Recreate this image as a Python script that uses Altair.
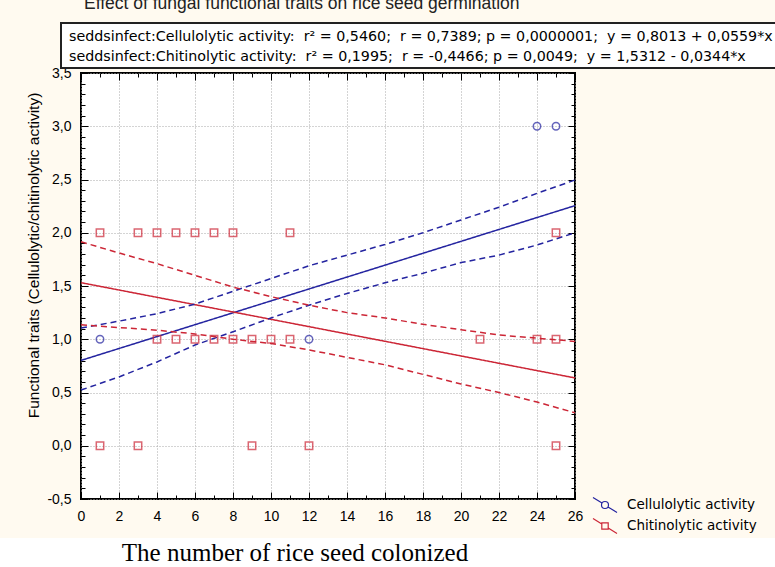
import altair as alt
import pandas as pd

# ---------------- data ----------------
series_names = ["Cellulolytic activity", "Chitinolytic activity"]

# regression lines (end points of the fitted straight lines)
fit_x = [0, 26]
cell_fit = [0.8013, 2.2547]
chit_fit = [1.5312, 0.6368]

# 95% confidence bands
band_x = [0, 2, 4, 6, 8, 10, 12, 14, 16, 18, 20, 22, 24, 26]
cell_upper = [1.106, 1.17, 1.24, 1.33, 1.45, 1.57, 1.69, 1.79, 1.89, 2.00, 2.12, 2.24, 2.37, 2.495]
cell_lower = [0.523, 0.646, 0.787, 0.946, 1.07, 1.20, 1.32, 1.43, 1.53, 1.62, 1.72, 1.79, 1.885, 2.00]
chit_upper = [1.915, 1.81, 1.71, 1.60, 1.49, 1.40, 1.32, 1.25, 1.20, 1.14, 1.09, 1.04, 1.01, 0.98]
chit_lower = [1.135, 1.11, 1.085, 1.05, 1.00, 0.96, 0.90, 0.83, 0.76, 0.67, 0.58, 0.50, 0.41, 0.31]

# observed points
cell_x = [1, 12, 24, 25]
cell_y = [1, 1, 3, 3]
chit_x = [1, 3, 4, 5, 6, 7, 8, 11, 25,
          4, 5, 6, 7, 8, 9, 10, 11, 21, 24, 25,
          1, 3, 9, 12, 25]
chit_y = [2, 2, 2, 2, 2, 2, 2, 2, 2,
          1, 1, 1, 1, 1, 1, 1, 1, 1, 1, 1,
          0, 0, 0, 0, 0]

x_ticks = [0, 2, 4, 6, 8, 10, 12, 14, 16, 18, 20, 22, 24, 26]
y_ticks = [-0.5, 0.0, 0.5, 1.0, 1.5, 2.0, 2.5, 3.0, 3.5]
x_minor = list(range(0, 27))
y_minor = [round(-0.5 + 0.1 * i, 1) for i in range(41)]

NB = "\u00a0"
title_text = "Effect of fungal functional traits on rice seed germination"
stat_line1 = ("seddsinfect:Cellulolytic activity:" + NB * 2 + "r\u00b2 = 0,5460;" + NB * 2 + "r = 0,7389;" + NB
              + "p = 0,0000001;" + NB * 2 + "y = 0,8013 + 0,0559*x")
stat_line2 = ("seddsinfect:Chitinolytic activity:" + NB * 2 + "r\u00b2 = 0,1995;" + NB * 2 + "r = -0,4466;" + NB
              + "p = 0,0049;" + NB * 2 + "y = 1,5312 - 0,0344*x")
y_title = "Functional traits (Cellulolytic/chitinolytic activity)"
caption = "The number of rice seed colonized"

# ---------------- tables ----------------
rows = []
for name, fx, fy in [(series_names[0], fit_x, cell_fit), (series_names[1], fit_x, chit_fit)]:
    for a, b in zip(fx, fy):
        rows.append(dict(series=name, kind="fit", line=name + " fit", x=a, y=b))
for name, up, lo in [(series_names[0], cell_upper, cell_lower), (series_names[1], chit_upper, chit_lower)]:
    for a, b in zip(band_x, up):
        rows.append(dict(series=name, kind="band", line=name + " up", x=a, y=b))
    for a, b in zip(band_x, lo):
        rows.append(dict(series=name, kind="band", line=name + " lo", x=a, y=b))
lines_df = pd.DataFrame(rows)

pts = [dict(series=series_names[0], x=a, y=b) for a, b in zip(cell_x, cell_y)]
pts += [dict(series=series_names[1], x=a, y=b) for a, b in zip(chit_x, chit_y)]
pts_df = pd.DataFrame(pts)

BLUE = "#2424A0"
RED = "#CC2636"
FONT = "Liberation Sans"
WIDE = "DejaVu Sans"
W, H = 494, 426

xs = alt.Scale(domain=[0, 26], nice=False, zero=False)
ys = alt.Scale(domain=[-0.5, 3.5], nice=False, zero=False)


def cscale():
    return alt.Scale(domain=series_names, range=[BLUE, RED])


grid_kw = dict(grid=True, gridColor="#A8A8A8", gridDash=[1, 2], gridWidth=1,
               ticks=False, tickSize=0, domain=False, labelFont=FONT, labelColor="black",
               labelOverlap=False, labelFlush=False)

x_main = alt.Axis(values=x_ticks, labelFontSize=14, labelPadding=10, title=None, **grid_kw)
y_main = alt.Axis(values=y_ticks, labelFontSize=14, labelPadding=10,
                  labelExpr="(datum.value < 0 ? '-' : '') + replace(format(abs(datum.value), '.1f'), '.', ',')",
                  title=y_title, titleFont=FONT, titleFontSize=15.5, titleFontWeight="normal",
                  titleColor="black", titleX=-48, titleY=182, titleAngle=270,
                  titleBaseline="middle", titleAlign="center", **grid_kw)

lines = alt.Chart(lines_df).mark_line(strokeWidth=1.5).encode(
    x=alt.X("x:Q", scale=xs, axis=x_main),
    y=alt.Y("y:Q", scale=ys, axis=y_main),
    color=alt.Color("series:N", scale=cscale(), legend=None),
    strokeDash=alt.StrokeDash("kind:N", scale=alt.Scale(domain=["fit", "band"], range=[[1, 0], [6, 4]]), legend=None),
    detail="line:N",
)

points = alt.Chart(pts_df).mark_point(filled=False, strokeWidth=1.5, size=55).encode(
    x=alt.X("x:Q", scale=xs, axis=None),
    y=alt.Y("y:Q", scale=ys, axis=None),
    color=alt.Color("series:N", scale=cscale(), legend=None),
    shape=alt.Shape("series:N", scale=alt.Scale(domain=series_names, range=["circle", "square"]), legend=None),
)

# legend: symbols are a diagonal line with the marker in the middle
circle_path = "M-1.2,-0.75L-0.3,-0.19M0.3,0.19L1.2,0.75M0.35,0A0.35,0.35 0 1,1 -0.35,0A0.35,0.35 0 1,1 0.35,0Z"
square_path = "M-1.2,-0.75L-0.32,-0.2M0.32,0.2L1.2,0.75M-0.32,-0.32L0.32,-0.32L0.32,0.32L-0.32,0.32Z"
leg_kw = dict(orient="none", legendX=513, legendY=421, title=None,
              labelFont=WIDE, labelFontSize=13.5, labelColor="black",
              symbolSize=400, symbolStrokeWidth=1.2, rowPadding=0, labelOffset=11)
legend_layer = alt.Chart(pts_df).transform_filter("false").mark_point(filled=False, opacity=1).encode(
    x=alt.X("x:Q", scale=xs, axis=None),
    y=alt.Y("y:Q", scale=ys, axis=None),
    color=alt.Color("series:N", scale=cscale(), legend=alt.Legend(**leg_kw)),
    shape=alt.Shape("series:N", scale=alt.Scale(domain=series_names, range=[circle_path, square_path]),
                    legend=alt.Legend(**leg_kw)),
)


def tick_axis(orient, values, size):
    return alt.Axis(orient=orient, values=values, ticks=True, tickSize=size, tickColor="black",
                    tickWidth=1, offset=-size, labels=False, domain=False, grid=False, title=None)


def tick_layer(xo, xv, xsz, yo, yv, ysz):
    return alt.Chart(pts_df).mark_point(opacity=0).encode(
        x=alt.X("x:Q", scale=xs, axis=tick_axis(xo, xv, xsz)),
        y=alt.Y("y:Q", scale=ys, axis=tick_axis(yo, yv, ysz)),
    )


t1 = tick_layer("bottom", x_minor, 4, "left", y_minor, 4)
t2 = tick_layer("top", x_minor, 4, "right", y_minor, 4)
t3 = tick_layer("bottom", x_ticks, 7, "left", y_ticks, 7)
t4 = tick_layer("top", x_ticks, 7, "right", y_ticks, 7)

one = pd.DataFrame({"t": [title_text]})
white_strip = alt.Chart(one).mark_rect(color="white").encode(
    x=alt.value(-81), x2=alt.value(W + 200), y=alt.value(465), y2=alt.value(H + 80))
box = alt.Chart(one).mark_rect(fill="white", stroke="#222222", strokeWidth=2).encode(
    x=alt.value(-20), x2=alt.value(W + 240), y=alt.value(-50), y2=alt.value(-5))
title = alt.Chart(one).mark_text(align="left", baseline="alphabetic", font=FONT, fontSize=17.5,
                                 color="#222222").encode(
    text="t:N", x=alt.value(3), y=alt.value(-64))
stats1 = alt.Chart(pd.DataFrame({"t": [stat_line1]})).mark_text(
    align="left", baseline="middle", font=WIDE, fontSize=14.25, color="black").encode(
    text="t:N", x=alt.value(-12), y=alt.value(-36))
stats2 = alt.Chart(pd.DataFrame({"t": [stat_line2]})).mark_text(
    align="left", baseline="middle", font=WIDE, fontSize=14.25, color="black").encode(
    text="t:N", x=alt.value(-12), y=alt.value(-16))
cap = alt.Chart(pd.DataFrame({"t": [caption]})).mark_text(
    align="center", baseline="alphabetic", font="Liberation Serif", fontSize=25, color="black").encode(
    text="t:N", x=alt.value(214), y=alt.value(488))

chart = alt.layer(
    white_strip, box, title, stats1, stats2, cap, lines, points, legend_layer, t1, t2, t3, t4
).resolve_axis(x="independent", y="independent").resolve_scale(
    shape="independent", color="independent"
).properties(
    width=W, height=H,
    padding={"left": 81, "top": 73, "right": 200, "bottom": 68},
    autosize=alt.AutoSizeParams(type="none"),
    background="#FFFAF0",
).configure_view(fill="white", stroke="black", strokeWidth=2)

chart.save("out.html", embed_options={"renderer": "svg", "actions": False})
